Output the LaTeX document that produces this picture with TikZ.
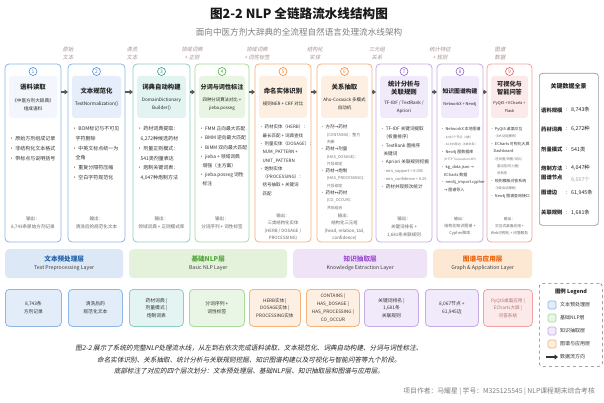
\documentclass[tikz,border=0pt]{standalone}
\usepackage{fontspec}
\setmainfont{Noto Sans CJK SC}[AutoFakeSlant=0.2]
\newfontfamily\symf{DejaVu Sans}
\usetikzlibrary{arrows.meta}
\makeatletter
\providecommand\tikzscope@linewidth{0.4pt}
\makeatother

\definecolor{bluB}{HTML}{8DB6E6}\definecolor{bluH}{HTML}{E5EEFA}\definecolor{bluN}{HTML}{4A8AD4}\definecolor{bluF}{HTML}{E3EDF9}
\definecolor{blaB}{HTML}{8DB6E6}\definecolor{blaH}{HTML}{F3F7FD}\definecolor{blaN}{HTML}{4A8AD4}
\definecolor{teaB}{HTML}{88CFC5}\definecolor{teaH}{HTML}{E2F4F1}\definecolor{teaN}{HTML}{2E9E90}\definecolor{teaF}{HTML}{E3F4F2}
\definecolor{grnB}{HTML}{A8DA9A}\definecolor{grnH}{HTML}{E9F5E3}\definecolor{grnN}{HTML}{4FAE45}\definecolor{grnF}{HTML}{EAF6E5}
\definecolor{orgB}{HTML}{F5B27A}\definecolor{orgH}{HTML}{FDF0E2}\definecolor{orgN}{HTML}{EE8A3A}\definecolor{orgF}{HTML}{FDEFE1}
\definecolor{purB}{HTML}{C6ABE6}\definecolor{purH}{HTML}{F1EAFA}\definecolor{purN}{HTML}{8E62C9}\definecolor{purF}{HTML}{F1EAFA}
\definecolor{redB}{HTML}{F2A3A3}\definecolor{redH}{HTML}{FCE9E9}\definecolor{redN}{HTML}{DD5E5E}\definecolor{redF}{HTML}{FCEAEA}
\definecolor{LaF}{HTML}{DCE8F6}\definecolor{LaT}{HTML}{1F5FA8}
\definecolor{LbF}{HTML}{E4F2DC}\definecolor{LbT}{HTML}{52A63A}
\definecolor{LcF}{HTML}{EEE3F7}\definecolor{LcT}{HTML}{9C4FD0}
\definecolor{LdF}{HTML}{FDE8D4}\definecolor{LdT}{HTML}{E8620F}
\definecolor{lblc}{HTML}{A89090}
\definecolor{redT}{HTML}{B07070}

\newcommand\myfs[2]{\fontsize{#1}{#2}\selectfont}
\newcommand\myind{\hspace*{3.4pt}}
\newcommand\mysub[2][3.9]{{\color{black!55}\myfs{#1}{7}#2}}
\newcommand\myttl[2][6.4]{{\bfseries\myfs{#1}{8}#2}}
\newcommand\mysbt[2][4.6]{{\myfs{#1}{8}#2}}
\newcommand\myarr{{\symf →}}
\newcommand\mybiarr{{\symf ↔}}

\tikzset{
  colbox/.style={draw, line width=0.8pt, rounded corners=4pt, fill=white, minimum height=178pt, inner sep=0pt, outer sep=0pt},
  hdrbox/.style={rounded corners=3pt, minimum height=42pt, inner sep=0pt, outer sep=0pt},
  numc/.style={circle, line width=0.6pt, minimum size=8pt, inner sep=0pt, font=\myfs{5}{5}},
  hdr/.style={align=center, inner sep=0pt, text=black!85, font=\myfs{5}{8}},
  outp/.style={align=center, anchor=north, inner sep=0pt, text=black!60, font=\myfs{4.6}{8.3}},
  blt/.style={align=left, anchor=north west, inner sep=0pt, text=black!80},
  flow/.style={line width=1.6pt, draw=black!65, -{Triangle[length=3.5pt,width=5pt]}},
  lab/.style={align=center, inner sep=0pt, text=lblc, font=\myfs{5.3}{7.2}\itshape},
  layer/.style={anchor=north west, minimum height=29pt, rounded corners=4pt, align=center, inner sep=0pt, text=black!75, font=\myfs{5.2}{8}},
  bbox/.style={anchor=north west, minimum height=37pt, rounded corners=4pt, line width=0.8pt, align=center, inner sep=0pt, font=\myfs{4.8}{7.6}, text=black!80},
  kl/.style={anchor=west, inner sep=0pt, font=\bfseries\myfs{5.3}{6}, text=black!85},
  kv/.style={anchor=west, inner sep=0pt, font=\myfs{5.3}{6}, text=black!85},
  lsq/.style={minimum size=8pt, inner sep=0pt, rounded corners=1.5pt, line width=0.7pt},
  ltx/.style={anchor=west, inner sep=0pt, font=\myfs{5}{6}, text=black!80}
}

\newcommand\mystage[7]{%
  \node[colbox, draw=#4B, minimum width=#3pt, anchor=north west] (c#1) at (#2,64) {};
  \node[hdrbox, fill=#4H, minimum width=#3pt-8pt, anchor=north west] (hb#1) at (#2+4,76) {};
  \node[numc, draw=#4N, text=#4N] (n#1) at (#2+#3/2,71.5) {#1};
  \node[hdr] (h#1) at (#2+#3/2,97) {#6};
  \node[outp, #5] (o#1) at (#2+#3/2,216.5) {输出：\\#7};
}

\begin{document}
\begin{tikzpicture}[x=1pt,y=-1pt]
\begin{scope}
\fill[white] (0,0) rectangle (604,403);
\useasboundingbox (0,0) rectangle (604,403);

\node[inner sep=0pt, font=\bfseries\myfs{12.6}{14}, text=black!90] (title) at (299,14) {图2-2 NLP 全链路流水线结构图};
\node[inner sep=0pt, font=\myfs{8.6}{10}, text=black!50] (subtitle) at (299,32) {面向中医方剂大辞典的全流程自然语言处理流水线架构};

% top labels
\node[lab] (l1) at (68,53.5) {原始\\文本};
\node[lab] (l2) at (132,53.5) {清洗\\文本};
\node[lab] (l3) at (192,53.5) {领域词典\\+ 正则};
\node[lab] (l4) at (257,53.5) {领域词典\\+ 词性标签};
\node[lab] (l5) at (315,53.5) {结构化\\实体};
\node[lab] (l6) at (377,53.5) {三元组\\关系};
\node[lab] (l7) at (440,53.5) {统计特征\\+ 规则};
\node[lab] (l8) at (500,53.5) {图谱\\数据};

% stages
\mystage{1}{5}{56}{bla}{}{\myttl{语料读取}\\[5pt]\mysbt{《中医方剂大辞典》}\\\mysbt{组成语料}}{8,743条原始方剂记录}
\mystage{2}{68}{57}{blu}{}{\myttl{文本规范化}\\[4pt]\mysbt[4.7]{TextNormalization()}}{清洗后的规范化文本}
\mystage{3}{133}{57}{tea}{}{\myttl{词典自动构建}\\[4pt]\mysbt{DomainDictionary}\\\mysbt{Builder()}}{领域词典 + 正则模式库}
\mystage{4}{195}{54}{grn}{}{\myttl[6.1]{分词与词性标注}\\[4pt]\mysbt[4.4]{四种分词算法对比 +}\\\mysbt[4.4]{jieba.posseg}}{分词序列 + 词性标签}
\mystage{5}{255}{56}{org}{yshift=3pt, font=\myfs{4.4}{7.4}}{\myttl{命名实体识别}\\[4pt]\mysbt[4.5]{规则NER + CRF 对比}}{三类结构化实体\\(HERB / DOSAGE /\\PROCESSING)}
\mystage{6}{317}{55}{org}{yshift=3pt, font=\myfs{4.4}{7.4}}{\myttl{关系抽取}\\[4pt]\mysbt[4.5]{Aho-Corasick 多模式}\\\mysbt[4.5]{自动机}}{结构化三元组\\(head, relation, tail,\\confidence)}
\mystage{7}{376}{56}{pur}{font=\myfs{4.5}{8}}{\myttl{统计分析与}\\\myttl{关联规则}\\[2pt]\mysbt[4.5]{TF-IDF / TextRank /}\\\mysbt[4.5]{Apriori}}{关键词排名 +\\1,681条关联规则}
\mystage{8}{437}{46}{pur}{yshift=-0.5pt, font=\myfs{4}{7}}{\myttl[5.8]{知识图谱构建}\\[4pt]\mysbt[4]{NetworkX + Neo4j}}{结构化知识图谱 +\\Cypher脚本}
\mystage{9}{487}{45}{red}{yshift=-0.5pt, font=\myfs{3.7}{7}}{\myttl[6.2]{可视化与}\\\myttl[6.2]{智能问答}\\[2pt]\mysbt[3.9]{PyQt5 + ECharts +}\\\mysbt[3.9]{Flask}}{交互式桌面应用 +\\Web可视化 + 问答服务}

% bullets
\node[blt, font=\myfs{5}{9.7}] (b1) at (9,136.5) {· 原始方剂组成记录\\· 非结构化文本格式\\· 带标点与说明括号};
\node[blt, font=\myfs{5}{9.7}] (b2) at (72,126.5) {· BOM标记与不可见\\\myind 字符删除\\· 中英文标点统一为\\\myind 全角\\· 重复分隔符压缩\\· 空白字符规范化};
\node[blt, font=\myfs{5}{9.7}] (b3) at (137,126.5) {· 药材词典提取：\\\myind 6,272种候选药材\\· 剂量正则模式：\\\myind 541类剂量表达\\· 炮制关键词表：\\\myind 4,047种炮制方法};
\node[blt, font=\myfs{4.8}{9.2}] (b4) at (199,126.5) {· FMM 正向最大匹配\\· BMM 逆向最大匹配\\· BiMM 双向最大匹配\\· jieba + 领域词典\\\myind 增强（主方案）\\· jieba.posseg 词性\\\myind 标注};
\node[blt, font=\myfs{4.5}{8.3}] (b5) at (259,124.8) {· 药材实体（HERB）：\\\myind 最长匹配 + 词典查找\\· 剂量实体（DOSAGE）：\\\myind NUM\_PATTERN +\\\myind UNIT\_PATTERN\\· 炮制实体\\\myind （PROCESSING）：\\\myind 括号抽取 + 关键词\\\myind 匹配};
\node[blt, font=\myfs{4.5}{7.3}] (b6) at (320,124.8) {· 方剂\myarr 药材\\\myind\myind\mysub{(CONTAINS)：整方}\\\myind\myind\mysub{判断}\\· 药材\myarr 剂量\\\myind\myind\mysub{(HAS\_DOSAGE)：}\\\myind\myind\mysub{片段绑定}\\· 药材\myarr 炮制\\\myind\myind\mysub{(HAS\_PROCESSING)：}\\\myind\myind\mysub{片段绑定}\\· 药材\mybiarr 药材\\\myind\myind\mysub{(CO\_OCCUR)：}\\\myind\myind\mysub{共现组合}};
\node[blt, font=\myfs{4.6}{8.3}] (b7) at (380,126.5) {· TF-IDF 关键词提取\\\myind（权重排序）\\· TextRank 图排序\\\myind 关键词\\· Apriori 关联规则挖掘\\\myind\mysub{- min\_support = 0.005}\\\myind\mysub{- min\_confidence = 0.25}\\· 药材共现频次统计};
\node[blt, font=\myfs{4}{7.6}] (b8) at (440.5,127) {· NetworkX 本地图谱\\\myind\mysub[3]{- 8,067个节点（4类）}\\\myind\mysub[3]{- 61,945条边（4类关系）}\\· Neo4j 图数据库\\\myind\mysub[3]{(HTTP Transaction API)}\\· kg\_data.json \myarr\\\myind ECharts 数据\\· neo4j\_import.cypher\\\myind\myarr\ 图谱导入};
\node[blt, font=\myfs{3.9}{7.4}] (b9) at (490,127) {· PyQt5 桌面交互\\\myind\mysub[3.3]{（8大功能模块）}\\· ECharts 可视化大屏\\\myind Dashboard\\\myind\mysub[3.3]{- 柱状图/饼图/词云/}\\\myind\mysub[3.3]{\myind 雷达图/热力图/}\\\myind\mysub[3.3]{\myind 关系图}\\· 规则模板问答系统\\\myind\mysub[3.3]{（9类会话模板）}\\· Neo4j 图谱查询接口};

% flow arrows
\foreach \a/\b in {1/2,2/3,3/4,4/5,5/6,6/7,7/8,8/9}
  \draw[flow] ([yshift=-28pt]c\a.north east) -- ([yshift=-28pt]c\b.north west);

% layers
\node[layer, fill=LaF, minimum width=118pt] (L1) at (5,249) {{\color{LaT}\bfseries\myfs{6.6}{8}文本预处理层}\\Text Preprocessing Layer};
\node[layer, fill=LbF, minimum width=158pt] (L2) at (129,249) {{\color{LbT}\bfseries\myfs{6.6}{8}基础NLP层}\\Basic NLP Layer};
\node[layer, fill=LcF, minimum width=134pt] (L3) at (293,249) {{\color{LcT}\bfseries\myfs{6.6}{8}知识抽取层}\\Knowledge Extraction Layer};
\node[layer, fill=LdF, minimum width=99pt] (L4) at (433,249) {{\color{LdT}\bfseries\myfs{6.6}{8}图谱与应用层}\\Graph \& Application Layer};

% bottom boxes
\node[bbox, draw=bluB, fill=bluF, minimum width=56pt] (B1) at (5,289) {8,743条\\方剂记录};
\node[bbox, draw=bluB, fill=bluF, minimum width=54pt] (B2) at (68,289) {清洗后的\\规范化文本};
\node[bbox, draw=teaB, fill=teaF, minimum width=54pt] (B3) at (129,289) {药材词典 |\\剂量模式 |\\炮制词表};
\node[bbox, draw=grnB, fill=grnF, minimum width=55pt] (B4) at (189,289) {分词序列 +\\词性标签};
\node[bbox, draw=orgB, fill=orgF, minimum width=51pt, font=\myfs{4.6}{7.5}] (B5) at (249,289) {HERB实体 |\\DOSAGE实体 |\\PROCESSING实体};
\node[bbox, draw=orgB, fill=orgF, minimum width=53pt, font=\myfs{4.6}{7.7}] (B6) at (306,289) {CONTAINS |\\HAS\_DOSAGE |\\HAS\_PROCESSING |\\CO\_OCCUR};
\node[bbox, draw=purB, fill=purF, minimum width=54pt] (B7) at (364,289) {关键词排名 |\\1,681条\\关联规则};
\node[bbox, draw=purB, fill=purF, minimum width=53pt] (B8) at (425,289) {8,067节点 +\\61,945边};
\node[bbox, draw=redB, fill=redF, minimum width=49pt, text=redT, font=\myfs{4.6}{7.6}] (B9) at (483,289) {PyQt5桌面应用 |\\ECharts大屏 |\\问答系统};

% key data panel
\node[anchor=north west, minimum width=59pt, minimum height=152pt, draw=black!40, line width=0.7pt, rounded corners=3pt, fill=white, inner sep=0pt] (K) at (539,73) {};
\node[inner sep=0pt, font=\bfseries\myfs{6}{7}, text=black!85] (Kt) at (568.5,86) {关键数据全景};
\node[kl] (k1) at (541,110) {语料规模}; \node[kv] (q1) at (566,110) {:}; \node[kv] (v1) at (571,110) {8,743条};
\node[kl] (k2) at (541,129) {药材词典}; \node[kv] (q2) at (566,129) {:}; \node[kv] (v2) at (571,129) {6,272种};
\node[kl] (k3) at (541,149) {剂量模式}; \node[kv] (q3) at (566,149) {:}; \node[kv] (v3) at (571,149) {541类};
\node[kl] (k4) at (541,168) {炮制方法}; \node[kv] (q4) at (566,168) {:}; \node[kv] (v4) at (571,168) {4,047种};
\node[kl] (k5) at (541,177) {图谱节点}; \node[kv, text=black!35] (v5) at (571,179.5) {8,067个};
\node[kl] (k6) at (541,193) {图谱边}; \node[kv] (q6) at (566,193) {:}; \node[kv] (v6) at (571,193) {61,945条};
\node[kl] (k7) at (541,213) {关联规则}; \node[kv] (q7) at (566,213) {:}; \node[kv] (v7) at (571,213) {1,681条};

% caption
\node[align=center, inner sep=0pt, font=\myfs{6.6}{11.5}\itshape, text=black!85] (cap) at (249,359.5) {图2-2 展示了系统的完整NLP处理流水线，从左到右依次完成语料读取、文本规范化、词典自动构建、分词与词性标注、\\命名实体识别、关系抽取、统计分析与关联规则挖掘、知识图谱构建以及可视化与智能问答等九个阶段。\\底部标注了对应的四个层次划分：文本预处理层、基础NLP层、知识抽取层和图谱与应用层。};

% legend
\node[anchor=north west, minimum width=63pt, minimum height=83pt, draw=black!55, dashed, line width=0.6pt, rounded corners=3pt, fill=white, inner sep=0pt] (G) at (539,283) {};
\node[inner sep=0pt, font=\bfseries\myfs{5.4}{6}, text=black!85] (Gt) at (571,292) {图例 Legend};
\node[lsq, draw=bluB, fill=bluF] (s1) at (552,305) {}; \node[ltx] (t1) at (560,305) {文本预处理层};
\node[lsq, draw=grnB, fill=grnF] (s2) at (552,318) {}; \node[ltx] (t2) at (560,318) {基础NLP层};
\node[lsq, draw=purB, fill=purF] (s3) at (552,331) {}; \node[ltx] (t3) at (560,331) {知识抽取层};
\node[lsq, draw=orgB, fill=orgF] (s4) at (552,344) {}; \node[ltx] (t4) at (560,344) {图谱与应用层};
\coordinate (ga) at (546,357); \coordinate (gb) at (558,357);
\draw[flow, line width=1.3pt, draw=black!80] (ga) -- (gb);
\node[ltx] (t5) at (560,357) {数据流方向};

% footer
\node[anchor=east, inner sep=0pt, font=\myfs{6.8}{8}, text=black!50] (foot) at (595,392) {项目作者：马耀星 | 学号：M325125545 | NLP课程期末综合考核};
\end{scope}
\end{tikzpicture}
\end{document}
